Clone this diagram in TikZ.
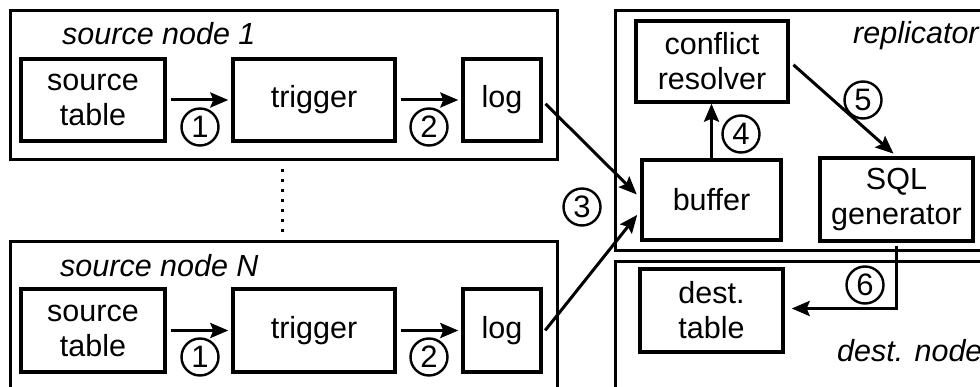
\documentclass[tikz,border=0pt]{standalone}
\usepackage{fontspec}
\setmainfont{Liberation Sans}
\usetikzlibrary{arrows.meta}

\tikzset{
  box/.style={draw, line width=3.4pt, inner sep=0pt, align=center, font=\fontsize{30.5}{35}\selectfont},
  hostframe/.style={draw, line width=3pt},
  num/.style={draw, circle, line width=2.4pt, minimum size=37pt, inner sep=0pt, font=\fontsize{31}{31}\selectfont},
  flow/.style={line width=3pt, -{Stealth[length=18pt,width=15pt,inset=3pt]}},
  tag/.style={inner sep=0pt, font=\fontsize{30.5}{35}\selectfont\itshape}
}

\begin{document}
\begin{tikzpicture}[x=1pt,y=-1pt]
        \useasboundingbox (0,0) rectangle (980,387);
        \clip (0,0) rectangle (980,387);

        %Frames: source hosts, replicator, destination
        \draw[hostframe] (10,11) rectangle (557,160);
        \draw[hostframe] (10,242) rectangle (557,410);
        \draw[hostframe] (615,11) rectangle (1000,251);
        \draw[hostframe] (615,262) rectangle (1000,410);

        %Frame titles
        \node[tag, anchor=base west] (t1) at (62,45) {source node 1};
        \node[tag, anchor=base west] (tN) at (60,277) {source node N};
        \node[tag, anchor=base west] (trep) at (853,44) {replicator};
        \node[tag, anchor=base west] (tdest) at (837,362) {dest. node};

        %Source node 1
        \node[box, minimum width=144pt, minimum height=82pt] (src1) at (93,100) {source\\table};
        \node[box, minimum width=162pt, minimum height=82pt] (trig1) at (314,100) {trigger};
        \node[box, minimum width=78pt, minimum height=82pt] (log1) at (502,100) {log};

        %Source node N
        \node[box, minimum width=144pt, minimum height=83pt] (srcN) at (93,330.5) {source\\table};
        \node[box, minimum width=162pt, minimum height=83pt] (trigN) at (314,330.5) {trigger};
        \node[box, minimum width=78pt, minimum height=83pt] (logN) at (502,330.5) {log};

        %Replicator
        \node[box, minimum width=152pt, minimum height=81pt] (resolver) at (712,61.5) {conflict\\resolver};
        \node[box, minimum width=139pt, minimum height=80pt] (buffer) at (711.5,200) {buffer};
        \node[box, minimum width=153pt, minimum height=83pt] (sqlgen) at (896.5,199.5) {SQL\\generator};

        %Destination
        \node[box, minimum width=143pt, minimum height=83pt] (dest) at (711.5,310.5) {dest.\\table};

        %Dots between the source nodes
        \coordinate (dotA) at (282,169);
        \coordinate (dotB) at (282,232);
        \draw[line width=3pt, dash pattern=on 3pt off 7pt] (dotA) -- (dotB);

        %Straight Lines
        \draw[flow, shorten <=4pt, shorten >=3pt] (src1) -- (trig1);
        \draw[flow, shorten <=4pt, shorten >=3pt] (trig1) -- (log1);
        \draw[flow, shorten <=4pt, shorten >=3pt] (srcN) -- (trigN);
        \draw[flow, shorten <=4pt, shorten >=3pt] (trigN) -- (logN);
        \draw[flow, shorten <=4pt, shorten >=5pt] ([yshift=-1pt]log1.east) -- ([yshift=2pt]buffer.west);
        \draw[flow, shorten <=4pt, shorten >=5pt] ([yshift=-3pt]logN.east) -- ([yshift=-11pt]buffer.west);
        \draw[flow] (buffer.north) -- (buffer.north |- resolver.south);
        \draw[flow, shorten <=5pt, shorten >=4pt] (resolver.east) -- (sqlgen.north);
        \draw[flow, shorten <=3pt, shorten >=7pt] (sqlgen.south) |- ([yshift=2pt]dest.east);

        %Step numbers
        \node[num] (n1a) at (200,127) {1};
        \node[num] (n2a) at (429,127) {2};
        \node[num] (n1b) at (200,357) {1};
        \node[num] (n2b) at (429,357) {2};
        \node[num] (n3) at (582,207) {3};
        \node[num] (n4) at (741,134) {4};
        \node[num] (n5) at (863,100) {5};
        \node[num] (n6) at (865,285) {6};
\end{tikzpicture}
\end{document}
